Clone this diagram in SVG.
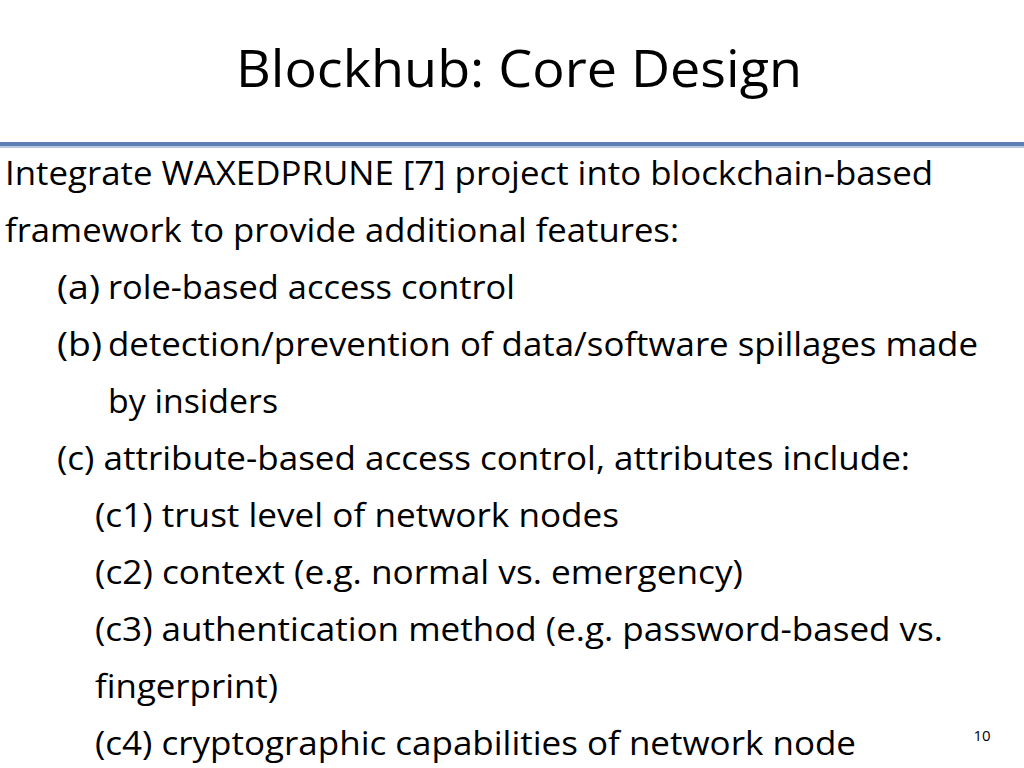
<svg xmlns="http://www.w3.org/2000/svg" width="1024" height="768" viewBox="0 0 1024 768">
<style>
text{font-family:"Open Sans","Liberation Sans",sans-serif;fill:#000}
.b{font-size:32px}
</style>
<rect width="1024" height="768" fill="#fff"/>
<text x="519" y="87" font-size="52" text-anchor="middle" textLength="566" lengthAdjust="spacingAndGlyphs">Blockhub: Core Design</text>
<rect x="0" y="142" width="1024" height="4" fill="#5b7fb3"/>
<rect x="0" y="146" width="1024" height="2" fill="#b8c8de"/>
<g class="b">
<text class="b" x="5" y="185" textLength="928" lengthAdjust="spacingAndGlyphs">Integrate WAXEDPRUNE [7] project into blockchain-based</text>
<text class="b" x="5" y="242" textLength="674" lengthAdjust="spacingAndGlyphs">framework to provide additional features:</text>
<text class="b" x="57" y="299" textLength="43" lengthAdjust="spacingAndGlyphs">(a)</text>
<text class="b" x="108" y="299" textLength="407" lengthAdjust="spacingAndGlyphs">role-based access control</text>
<text class="b" x="57" y="356" textLength="45" lengthAdjust="spacingAndGlyphs">(b)</text>
<text class="b" x="108" y="356" textLength="870" lengthAdjust="spacingAndGlyphs">detection/prevention of data/software spillages made</text>
<text class="b" x="108" y="413" textLength="170" lengthAdjust="spacingAndGlyphs">by insiders</text>
<text class="b" x="57" y="470" textLength="853" lengthAdjust="spacingAndGlyphs">(c) attribute-based access control, attributes include:</text>
<text class="b" x="95" y="527" textLength="524" lengthAdjust="spacingAndGlyphs">(c1) trust level of network nodes</text>
<text class="b" x="95" y="584" textLength="648" lengthAdjust="spacingAndGlyphs">(c2) context (e.g. normal vs. emergency)</text>
<text class="b" x="95" y="641" textLength="848" lengthAdjust="spacingAndGlyphs">(c3) authentication method (e.g. password-based vs.</text>
<text class="b" x="95" y="698" textLength="183" lengthAdjust="spacingAndGlyphs">fingerprint)</text>
<text class="b" x="95" y="755" textLength="761" lengthAdjust="spacingAndGlyphs">(c4) cryptographic capabilities of network node</text>
</g>
<text x="982" y="741" font-size="15" text-anchor="middle">10</text>
</svg>
